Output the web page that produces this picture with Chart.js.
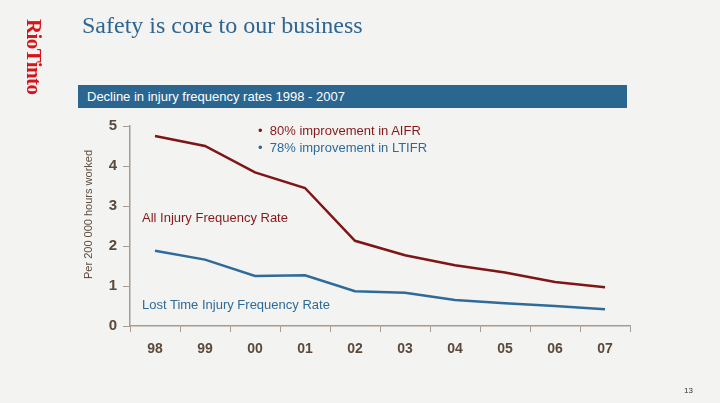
<!DOCTYPE html>
<html>
<head>
<meta charset="utf-8">
<script src="https://cdn.jsdelivr.net/npm/chart.js@4.4.1/dist/chart.umd.min.js"></script>
<style>
  html, body { margin: 0; padding: 0; background: #f3f3f1; }
  #page { position: relative; width: 720px; height: 403px; overflow: hidden; background: #f3f3f1; font-family: "Liberation Sans", Arial, sans-serif; }
  #chart { position: absolute; left: 0; top: 0; }
  .abs { position: absolute; white-space: nowrap; }
  #logo { left: 46px; top: 19px; transform-origin: 0 0; transform: rotate(90deg); font-family: "Liberation Serif", serif; font-weight: bold; font-size: 21px; color: #d7141a; letter-spacing: -0.6px; }
  #title { left: 82px; top: 12px; font-family: "Liberation Serif", serif; font-size: 24px; color: #2e6591; }
  #band { left: 78px; top: 85px; width: 549px; height: 23px; background: #2b6690; }
  #band span { position: absolute; left: 9px; top: 4px; color: #fff; font-size: 13px; }
  #ytitle { left: 82px; top: 279px; transform-origin: 0 0; transform: rotate(-90deg); font-size: 11px; color: #5b4a3c; }
  .red { color: #86181a; font-size: 13px; }
  .blue { color: #2f6b9a; font-size: 13px; }
  #pg { left: 684px; top: 386px; font-size: 8px; color: #333; }
</style>
</head>
<body>
<div id="page">
  <canvas id="chart" width="720" height="403"></canvas>
  <div class="abs" id="logo">RioTinto</div>
  <div class="abs" id="title">Safety is core to our business</div>
  <div class="abs" id="band"><span>Decline in injury frequency rates 1998 - 2007</span></div>
  <div class="abs" id="ytitle">Per 200 000 hours worked</div>
  <div class="abs red" style="left:258px;top:123px;">•&nbsp; 80% improvement in AIFR</div>
  <div class="abs blue" style="left:258px;top:140px;">•&nbsp; 78% improvement in LTIFR</div>
  <div class="abs red" style="left:142px;top:210px;">All Injury Frequency Rate</div>
  <div class="abs blue" style="left:142px;top:297px;">Lost Time Injury Frequency Rate</div>
  <div class="abs" id="pg">13</div>
</div>
<script>
  // Years shown on the x axis
  const years = ["98", "99", "00", "01", "02", "03", "04", "05", "06", "07"];
  // All Injury Frequency Rate
  const aifr = [4.75, 4.5, 3.84, 3.45, 2.13, 1.77, 1.52, 1.34, 1.1, 0.97];
  // Lost Time Injury Frequency Rate
  const ltifr = [1.88, 1.66, 1.25, 1.27, 0.87, 0.83, 0.65, 0.57, 0.5, 0.42];

  const axisColor = "#a89c92";
  const tickColor = "#5b4a3c";

  const ctx = document.getElementById("chart").getContext("2d");
  const chart = new Chart(ctx, {
    type: "line",
    data: {
      labels: years,
      datasets: [
        { label: "AIFR", data: aifr, borderColor: "#7f1517", borderWidth: 2.5, pointRadius: 0, tension: 0 },
        { label: "LTIFR", data: ltifr, borderColor: "#2f6b9a", borderWidth: 2.5, pointRadius: 0, tension: 0 },
      ],
    },
    options: {
      responsive: false,
      animation: false,
      layout: { padding: { left: 70, right: 90, top: 126, bottom: 40 } },
      plugins: { legend: { display: false }, tooltip: { enabled: false } },
      scales: {
        x: {
          offset: true,
          grid: { offset: true, drawOnChartArea: false, tickLength: 6, color: axisColor },
          border: { color: axisColor, width: 1.5 },
          ticks: { color: tickColor, font: { family: "Liberation Sans", size: 14, weight: "bold" }, padding: 9 },
          afterFit: (s) => { s.height = 37; },
        },
        y: {
          min: 0,
          max: 5,
          grid: { drawOnChartArea: false, tickLength: 7, color: axisColor },
          border: { color: axisColor, width: 1.5 },
          ticks: { stepSize: 1, color: tickColor, font: { family: "Liberation Sans", size: 15, weight: "bold" }, padding: 6 },
          afterFit: (s) => { s.width = 60; },
        },
      },
    },
  });
</script>
</body>
</html>
